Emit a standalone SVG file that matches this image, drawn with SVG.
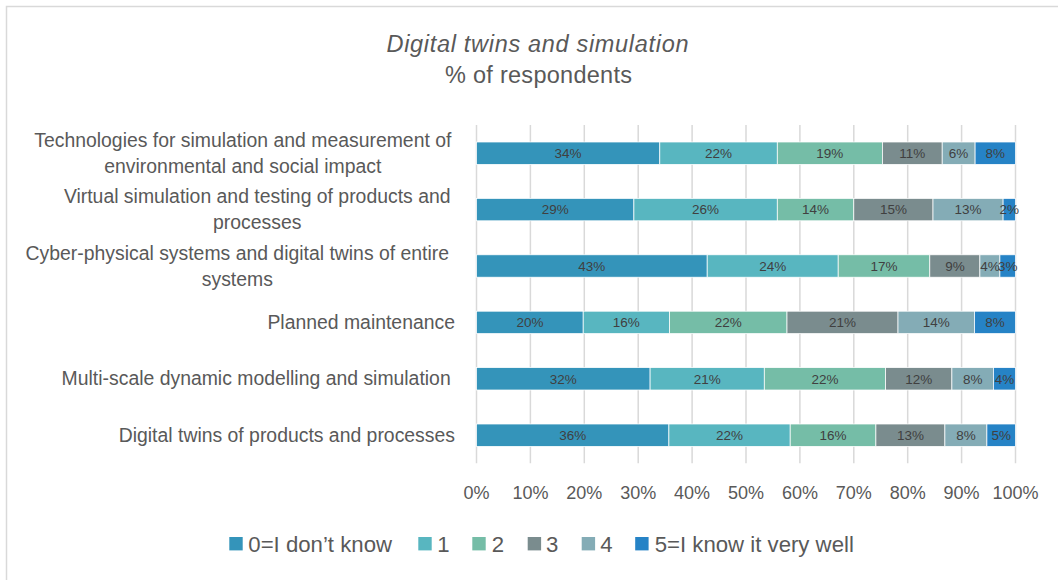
<svg xmlns="http://www.w3.org/2000/svg" width="1058" height="580" viewBox="0 0 1058 580">
<style>
.c0{fill:#3494BA}.c1{fill:#58B6C0}.c2{fill:#75BDA7}.c3{fill:#7A8C8E}.c4{fill:#84ACB6}.c5{fill:#2683C6}
.seg{stroke:#ffffff;stroke-width:0.75}
.dl{font-family:"Liberation Sans",Arial,sans-serif;font-size:13.5px;fill:#404040;text-anchor:middle}
.cat{font-family:"Liberation Sans",Arial,sans-serif;font-size:19.4px;fill:#595959}
.ax{font-family:"Liberation Sans",Arial,sans-serif;font-size:18px;fill:#595959;text-anchor:middle}
.lg{font-family:"Liberation Sans",Arial,sans-serif;font-size:22.2px;fill:#595959}
.ttl{font-family:"Liberation Sans",Arial,sans-serif;font-size:23.5px;fill:#595959;text-anchor:middle}
.grid{stroke:#D9D9D9;stroke-width:1.5}
</style>
<rect x="0" y="0" width="1058" height="580" fill="#ffffff"/>
<rect x="6.5" y="6.5" width="1060" height="590" fill="#ffffff" stroke="#D9D9D9" stroke-width="1.5"/>
<g id="title">
<text class="ttl" x="537.5" y="51.5" font-style="italic" textLength="302" lengthAdjust="spacing">Digital twins and simulation</text>
<text class="ttl" x="538.5" y="83" textLength="187" lengthAdjust="spacing">% of respondents</text>
</g>
<g id="gridlines">
<line class="grid" x1="476.5" y1="125" x2="476.5" y2="463.3"/>
<line class="grid" x1="530.4" y1="125" x2="530.4" y2="463.3"/>
<line class="grid" x1="584.3" y1="125" x2="584.3" y2="463.3"/>
<line class="grid" x1="638.2" y1="125" x2="638.2" y2="463.3"/>
<line class="grid" x1="692.1" y1="125" x2="692.1" y2="463.3"/>
<line class="grid" x1="746" y1="125" x2="746" y2="463.3"/>
<line class="grid" x1="799.9" y1="125" x2="799.9" y2="463.3"/>
<line class="grid" x1="853.8" y1="125" x2="853.8" y2="463.3"/>
<line class="grid" x1="907.7" y1="125" x2="907.7" y2="463.3"/>
<line class="grid" x1="961.6" y1="125" x2="961.6" y2="463.3"/>
<line class="grid" x1="1015.5" y1="125" x2="1015.5" y2="463.3"/>
</g>
<g id="axis-labels">
<text class="ax" x="476.5" y="498.5">0%</text>
<text class="ax" x="530.4" y="498.5">10%</text>
<text class="ax" x="584.3" y="498.5">20%</text>
<text class="ax" x="638.2" y="498.5">30%</text>
<text class="ax" x="692.1" y="498.5">40%</text>
<text class="ax" x="746" y="498.5">50%</text>
<text class="ax" x="799.9" y="498.5">60%</text>
<text class="ax" x="853.8" y="498.5">70%</text>
<text class="ax" x="907.7" y="498.5">80%</text>
<text class="ax" x="961.6" y="498.5">90%</text>
<text class="ax" x="1015.5" y="498.5">100%</text>
</g>
<g id="row1">
<text class="cat" x="242.8" y="147" text-anchor="middle">Technologies for simulation and measurement of</text>
<text class="cat" x="242.8" y="173" text-anchor="middle">environmental and social impact</text>
<rect class="seg c0" x="476.5" y="142" width="183.3" height="22.4"/>
<rect class="seg c1" x="659.8" y="142" width="117.5" height="22.4"/>
<rect class="seg c2" x="777.3" y="142" width="105.1" height="22.4"/>
<rect class="seg c3" x="882.4" y="142" width="59.8" height="22.4"/>
<rect class="seg c4" x="942.2" y="142" width="32.9" height="22.4"/>
<rect class="seg c5" x="975.1" y="142" width="40.4" height="22.4"/>
<text class="dl" x="568.1" y="158">34%</text>
<text class="dl" x="718.5" y="158">22%</text>
<text class="dl" x="829.8" y="158">19%</text>
<text class="dl" x="912.3" y="158">11%</text>
<text class="dl" x="958.6" y="158">6%</text>
<text class="dl" x="995.3" y="158">8%</text>
</g>
<g id="row2">
<text class="cat" x="257.2" y="203.3" text-anchor="middle">Virtual simulation and testing of products and</text>
<text class="cat" x="257.2" y="229.3" text-anchor="middle">processes</text>
<rect class="seg c0" x="476.5" y="198.4" width="157.4" height="22.4"/>
<rect class="seg c1" x="633.9" y="198.4" width="143.4" height="22.4"/>
<rect class="seg c2" x="777.3" y="198.4" width="76.5" height="22.4"/>
<rect class="seg c3" x="853.8" y="198.4" width="79.2" height="22.4"/>
<rect class="seg c4" x="933" y="198.4" width="70.1" height="22.4"/>
<rect class="seg c5" x="1003.1" y="198.4" width="12.4" height="22.4"/>
<text class="dl" x="555.2" y="214.4">29%</text>
<text class="dl" x="705.6" y="214.4">26%</text>
<text class="dl" x="815.5" y="214.4">14%</text>
<text class="dl" x="893.4" y="214.4">15%</text>
<text class="dl" x="968.1" y="214.4">13%</text>
<text class="dl" x="1009.3" y="214.4">2%</text>
</g>
<g id="row3">
<text class="cat" x="237.3" y="259.7" text-anchor="middle">Cyber-physical systems and digital twins of entire</text>
<text class="cat" x="237.3" y="285.7" text-anchor="middle">systems</text>
<rect class="seg c0" x="476.5" y="254.8" width="230.7" height="22.4"/>
<rect class="seg c1" x="707.2" y="254.8" width="131" height="22.4"/>
<rect class="seg c2" x="838.2" y="254.8" width="91.6" height="22.4"/>
<rect class="seg c3" x="929.8" y="254.8" width="50.1" height="22.4"/>
<rect class="seg c4" x="979.9" y="254.8" width="20" height="22.4"/>
<rect class="seg c5" x="999.9" y="254.8" width="15.6" height="22.4"/>
<text class="dl" x="591.8" y="270.8">43%</text>
<text class="dl" x="772.7" y="270.8">24%</text>
<text class="dl" x="884" y="270.8">17%</text>
<text class="dl" x="954.9" y="270.8">9%</text>
<text class="dl" x="989.9" y="270.8">4%</text>
<text class="dl" x="1007.7" y="270.8">3%</text>
</g>
<g id="row4">
<text class="cat" x="455" y="329.1" text-anchor="end">Planned maintenance</text>
<rect class="seg c0" x="476.5" y="311.2" width="106.7" height="22.4"/>
<rect class="seg c1" x="583.2" y="311.2" width="86.3" height="22.4"/>
<rect class="seg c2" x="669.5" y="311.2" width="117.5" height="22.4"/>
<rect class="seg c3" x="787" y="311.2" width="111" height="22.4"/>
<rect class="seg c4" x="898" y="311.2" width="76.5" height="22.4"/>
<rect class="seg c5" x="974.5" y="311.2" width="41" height="22.4"/>
<text class="dl" x="529.9" y="327.2">20%</text>
<text class="dl" x="626.3" y="327.2">16%</text>
<text class="dl" x="728.2" y="327.2">22%</text>
<text class="dl" x="842.5" y="327.2">21%</text>
<text class="dl" x="936.3" y="327.2">14%</text>
<text class="dl" x="995" y="327.2">8%</text>
</g>
<g id="row5">
<text class="cat" x="450.7" y="385.3" text-anchor="end">Multi-scale dynamic modelling and simulation</text>
<rect class="seg c0" x="476.5" y="367.6" width="173.6" height="22.4"/>
<rect class="seg c1" x="650.1" y="367.6" width="114.2" height="22.4"/>
<rect class="seg c2" x="764.3" y="367.6" width="121.3" height="22.4"/>
<rect class="seg c3" x="885.6" y="367.6" width="66.3" height="22.4"/>
<rect class="seg c4" x="951.9" y="367.6" width="41.5" height="22.4"/>
<rect class="seg c5" x="993.4" y="367.6" width="22.1" height="22.4"/>
<text class="dl" x="563.3" y="383.6">32%</text>
<text class="dl" x="707.2" y="383.6">21%</text>
<text class="dl" x="825" y="383.6">22%</text>
<text class="dl" x="918.8" y="383.6">12%</text>
<text class="dl" x="972.7" y="383.6">8%</text>
<text class="dl" x="1004.5" y="383.6">4%</text>
</g>
<g id="row6">
<text class="cat" x="455" y="441.7" text-anchor="end">Digital twins of products and processes</text>
<rect class="seg c0" x="476.5" y="424" width="192.4" height="22.4"/>
<rect class="seg c1" x="668.9" y="424" width="121.3" height="22.4"/>
<rect class="seg c2" x="790.2" y="424" width="85.7" height="22.4"/>
<rect class="seg c3" x="875.9" y="424" width="69" height="22.4"/>
<rect class="seg c4" x="944.9" y="424" width="42" height="22.4"/>
<rect class="seg c5" x="986.9" y="424" width="28.6" height="22.4"/>
<text class="dl" x="572.7" y="440">36%</text>
<text class="dl" x="729.6" y="440">22%</text>
<text class="dl" x="833.1" y="440">16%</text>
<text class="dl" x="910.4" y="440">13%</text>
<text class="dl" x="965.9" y="440">8%</text>
<text class="dl" x="1001.2" y="440">5%</text>
</g>
<g id="legend">
<rect class="c0" x="229.3" y="537" width="13.4" height="13.4"/>
<text class="lg" x="248.3" y="551.7">0=I don’t know</text>
<rect class="c1" x="418.3" y="537" width="13.4" height="13.4"/>
<text class="lg" x="437.3" y="551.7">1</text>
<rect class="c2" x="472.3" y="537" width="13.4" height="13.4"/>
<text class="lg" x="491.7" y="551.7">2</text>
<rect class="c3" x="527.7" y="537" width="13.4" height="13.4"/>
<text class="lg" x="546" y="551.7">3</text>
<rect class="c4" x="581.7" y="537" width="13.4" height="13.4"/>
<text class="lg" x="600.3" y="551.7">4</text>
<rect class="c5" x="635.2" y="537" width="13.4" height="13.4"/>
<text class="lg" x="654.7" y="551.7">5=I know it very well</text>
</g>
</svg>
